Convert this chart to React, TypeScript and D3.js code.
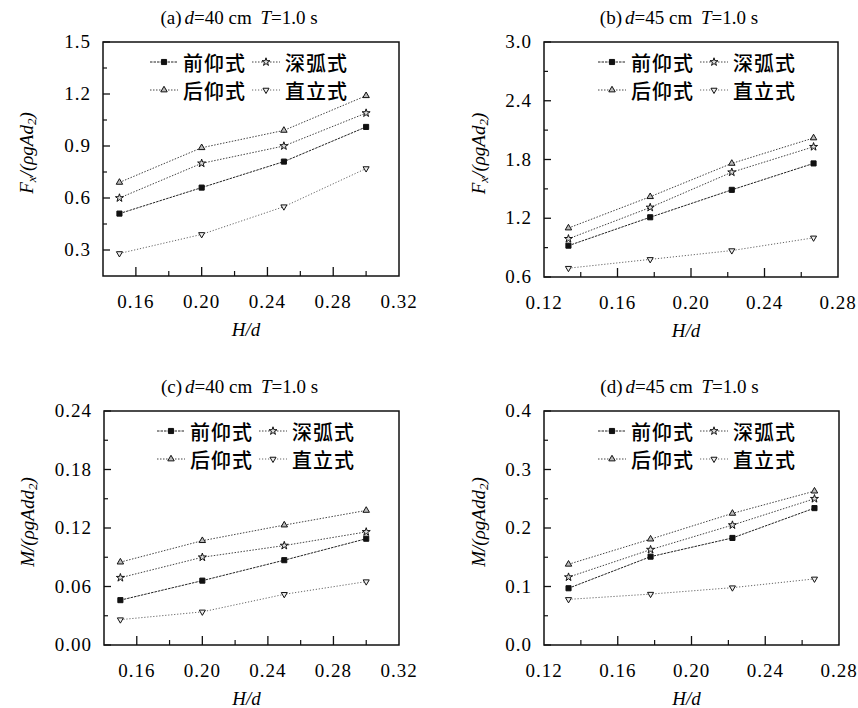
import React from 'react';
import * as d3 from 'd3';

// series (shape type) names
const seriesNames = ['前仰式', '深弧式', '后仰式', '直立式'];

// H/d values of the tests
const hdD40 = [0.15, 0.2, 0.25, 0.3];
const hdD45 = [0.1333, 0.1778, 0.2222, 0.2667];

// (a) horizontal force, d=40 cm
const fxA = [
  [0.51, 0.66, 0.81, 1.01],
  [0.6, 0.8, 0.9, 1.09],
  [0.69, 0.89, 0.99, 1.19],
  [0.28, 0.39, 0.55, 0.77],
];
// (b) horizontal force, d=45 cm
const fxB = [
  [0.92, 1.21, 1.49, 1.76],
  [0.99, 1.31, 1.67, 1.93],
  [1.1, 1.42, 1.76, 2.02],
  [0.69, 0.78, 0.87, 1.0],
];
// (c) moment, d=40 cm
const mC = [
  [0.046, 0.066, 0.087, 0.109],
  [0.069, 0.09, 0.102, 0.116],
  [0.085, 0.107, 0.123, 0.138],
  [0.026, 0.034, 0.052, 0.065],
];
// (d) moment, d=45 cm
const mD = [
  [0.097, 0.151, 0.183, 0.234],
  [0.116, 0.163, 0.205, 0.25],
  [0.138, 0.181, 0.225, 0.263],
  [0.078, 0.087, 0.098, 0.113],
];

// ticks
const xTicks40 = [0.16, 0.2, 0.24, 0.28, 0.32];
const xMinor40 = [0.18, 0.22, 0.26, 0.3];
const xTicks45 = [0.12, 0.16, 0.2, 0.24, 0.28];
const xMinor45 = [0.14, 0.18, 0.22, 0.26];
const yTicksA = [0.3, 0.6, 0.9, 1.2, 1.5];
const yMinorA = [0.45, 0.75, 1.05, 1.35];
const yTicksB = [0.6, 1.2, 1.8, 2.4, 3.0];
const yMinorB = [0.9, 1.5, 2.1, 2.7];
const yTicksC = [0, 0.06, 0.12, 0.18, 0.24];
const yMinorC = [0.03, 0.09, 0.15, 0.21];
const yTicksD = [0, 0.1, 0.2, 0.3, 0.4];
const yMinorD = [0.05, 0.15, 0.25, 0.35];

const symbols = [d3.symbolSquare, d3.symbolStar, d3.symbolTriangle, d3.symbolTriangle];
const symFill = ['#111', '#ddd', '#bbb', '#eee'];
const symSize = [26, 20, 18, 16];
const symRot = [0, 0, 0, 180];
const lineDash = ['2.5,1', '1.5,1.5', '1.5,1.5', '1.2,1.8'];
const lineColor = ['#222', '#444', '#444', '#666'];

const serif = '"Liberation Serif", "DejaVu Serif", serif';
const cjk = '"Noto Sans CJK SC", sans-serif';

const panels = [
  { tag: '(a)', d: '40', x: hdD40, ys: fxA, xd: [0.14, 0.32], yd: [0.15, 1.5], xt: xTicks40, xm: xMinor40, yt: yTicksA, ym: yMinorA, yfmt: '.1f', ylab: 'F', left: 103, right: 399, top: 42, bottom: 276, ylx: 26, lx: 47 },
  { tag: '(b)', d: '45', x: hdD45, ys: fxB, xd: [0.12, 0.28], yd: [0.6, 3.0], xt: xTicks45, xm: xMinor45, yt: yTicksB, ym: yMinorB, yfmt: '.1f', ylab: 'F', left: 544, right: 838, top: 42, bottom: 277, ylx: 478, lx: 54 },
  { tag: '(c)', d: '40', x: hdD40, ys: mC, xd: [0.14, 0.32], yd: [0, 0.24], xt: xTicks40, xm: xMinor40, yt: yTicksC, ym: yMinorC, yfmt: '.2f', ylab: 'M', left: 104, right: 399, top: 411, bottom: 645, ylx: 27, lx: 53 },
  { tag: '(d)', d: '45', x: hdD45, ys: mD, xd: [0.12, 0.28], yd: [0, 0.4], xt: xTicks45, xm: xMinor45, yt: yTicksD, ym: yMinorD, yfmt: '.1f', ylab: 'M', left: 544, right: 839, top: 411, bottom: 645, ylx: 478, lx: 54 },
];

const Marker = ({ i, x, y }: { i: number; x: number; y: number }) => {
  const p = d3.symbol().type(symbols[i]).size(symSize[i])();
  return (
    <path d={p || ''} transform={`translate(${x},${y}) rotate(${symRot[i]})`}
      fill={symFill[i]} stroke="#111" strokeWidth={1} />
  );
};

const Panel = ({ p }: { p: any }) => {
  const x = d3.scaleLinear().domain(p.xd).range([p.left, p.right]);
  const y = d3.scaleLinear().domain(p.yd).range([p.bottom, p.top]);
  const fmt = d3.format(p.yfmt);
  const line = d3.line<number>().x((_, j) => x(p.x[j])).y((v) => y(v));
  const cx = (p.left + p.right) / 2;
  const cy = (p.top + p.bottom) / 2;
  return (
    <g>
      {/* title */}
      <text x={cx - 12} y={p.top - 18} textAnchor="middle" fontFamily={serif} fontSize={19}>
        {p.tag}<tspan fontStyle="italic" dx={3}>d</tspan>=
        {p.d} cm <tspan fontStyle="italic" dx={4}>T</tspan>=1.0 s
      </text>
      {/* series */}
      {p.ys.map((vals: number[], i: number) => (
        <g key={i}>
          <path d={line(vals) || ''} fill="none" stroke={lineColor[i]} strokeWidth={1} strokeDasharray={lineDash[i]} />
          {vals.map((v, j) => <Marker key={j} i={i} x={x(p.x[j])} y={y(v)} />)}
        </g>
      ))}
      {/* frame */}
      <rect x={p.left} y={p.top} width={p.right - p.left} height={p.bottom - p.top} fill="none" stroke="#111" strokeWidth={1.5} />
      {/* x ticks */}
      {p.xt.map((t: number) => (
        <g key={'xt' + t}>
          {x(t) > p.left + 1 && x(t) < p.right - 1 && (
            <line x1={x(t)} x2={x(t)} y1={p.bottom} y2={p.bottom - 9} stroke="#111" strokeWidth={1.3} />
          )}
          <text x={x(t)} y={p.bottom + 32} textAnchor="middle" fontFamily={serif} fontSize={19} letterSpacing={1}>
            {d3.format('.2f')(t)}
          </text>
        </g>
      ))}
      {p.xm.map((t: number) => (
        <line key={'xm' + t} x1={x(t)} x2={x(t)} y1={p.bottom} y2={p.bottom - 5} stroke="#111" strokeWidth={1.2} />
      ))}
      {/* y ticks */}
      {p.yt.map((t: number) => (
        <g key={'yt' + t}>
          <line x1={p.left} x2={p.left + 7} y1={y(t)} y2={y(t)} stroke="#111" strokeWidth={1.3} />
          <text x={p.left - 12} y={y(t) + 6} textAnchor="end" fontFamily={serif} fontSize={19} letterSpacing={1}>
            {fmt(t)}
          </text>
        </g>
      ))}
      {p.ym.map((t: number) => (
        <line key={'ym' + t} x1={p.left} x2={p.left + 4} y1={y(t)} y2={y(t)} stroke="#111" strokeWidth={1.2} />
      ))}
      {/* axis titles */}
      <text x={cx - 5} y={p.bottom + 60} textAnchor="middle" fontFamily={serif} fontSize={19} fontStyle="italic">
        H/d
      </text>
      <text transform={`translate(${p.ylx},${cy - 6}) rotate(-90)`} textAnchor="middle" dominantBaseline="central"
        fontFamily={serif} fontSize={19} fontStyle="italic">
        {p.ylab === 'F' ? (
          <>F<tspan fontSize={13} dy={5}>x</tspan><tspan dy={-5}>/(ρgAd</tspan><tspan fontSize={13} dy={5}>2</tspan><tspan dy={-5}>)</tspan></>
        ) : (
          <>M/(ρgAdd<tspan fontSize={13} dy={5}>2</tspan><tspan dy={-5}>)</tspan></>
        )}
      </text>
      {/* legend */}
      {seriesNames.map((name, i) => {
        const lx0 = p.left + p.lx + (i % 2) * 102;
        const ly = p.top + 20 + Math.floor(i / 2) * 28;
        return (
          <g key={name}>
            <line x1={lx0} x2={lx0 + 28} y1={ly} y2={ly} stroke={lineColor[i]} strokeWidth={1} strokeDasharray={lineDash[i]} />
            <Marker i={i} x={lx0 + 14} y={ly} />
            <text x={lx0 + 33} y={ly} dominantBaseline="central" fontFamily={cjk} fontSize={20} fontWeight={500} letterSpacing={1}>
              {name}
            </text>
          </g>
        );
      })}
    </g>
  );
}

export default function App() {
  return (
    <svg width={858} height={708} style={{ position: 'absolute', left: 0, top: 0, background: '#fff' }}>
      <rect width={858} height={708} fill="#fff" />
      {panels.map((p) => <Panel key={p.tag} p={p} />)}
    </svg>
  );
}
